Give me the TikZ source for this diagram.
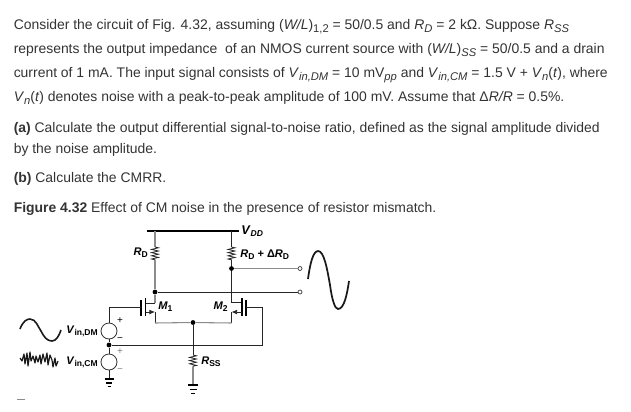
\documentclass[tikz,border=0pt]{standalone}
\usepackage{fontspec}
\setmainfont{Liberation Sans}
\usetikzlibrary{arrows.meta,decorations.pathmorphing}
\newcommand{\subtxt}[1]{\raisebox{-2.4pt}{\fontsize{8.4}{10}\selectfont #1}}
\newcommand{\labsub}[1]{\raisebox{-1.6pt}{\fontsize{6.4}{7}\selectfont #1}}
\definecolor{prose-grey}{HTML}{333333}
\tikzset{
    prose/.style = {anchor=base west, inner sep=0pt, text=prose-grey, font=\fontsize{10.45}{12}\selectfont},
    part-label/.style = {prose, font=\fontsize{10.45}{12}\selectfont\bfseries},
    comp-label/.style = {inner sep=0pt, font=\fontsize{8.3}{10}\selectfont\bfseries},
    wire/.style = {draw=black!85, line width=0.6pt},
    wire-pale/.style = {draw=black!45, line width=0.8pt},
    rail/.style = {draw=black, line width=1.4pt},
    res/.style = {wire, decorate, decoration={zigzag, amplitude=2.6pt, segment length=2.4pt}},
    plate/.style = {draw=black, line width=1.1pt},
    dot/.style = {circle, fill=black, inner sep=0pt, minimum size=3.6pt},
    open-dot/.style = {circle, draw=black!80, fill=white, line width=0.5pt, inner sep=0pt, minimum size=3pt},
    src/.style = {circle, draw=black!80, fill=white, line width=0.6pt, inner sep=0pt, minimum size=12pt},
    sign/.style = {inner sep=0pt, font=\fontsize{7.5}{8}\selectfont},
    stub-arrow/.style = {wire, -{Latex[length=4.2pt,width=3.6pt]}},
    hand-wave/.style = {draw=black!90, line width=1.2pt, line join=round},
    gnd-bar/.style = {draw=black, line width=1pt},
}
\begin{document}
\begin{tikzpicture}[x=0.75pt,y=-0.75pt]
\useasboundingbox (0,0) rectangle (631,411);
% question text
\node[prose] (line-a) at (13.5,29) {Consider the circuit of Fig. 4.32, assuming (\textit{W/L})\subtxt{1,2} = 50/0.5 and \textit{R}\subtxt{\textit{D}} = 2 kΩ. Suppose \textit{R}\subtxt{\textit{SS}}};
\node[prose] (line-b) at (13.5,53) {represents the output impedance\ \ of an NMOS current source with (\textit{W/L})\subtxt{\textit{SS}} = 50/0.5 and a drain};
\node[prose] (line-c) at (13.5,77) {current of 1 mA. The input signal consists of \textit{V}\subtxt{\textit{in,DM}} = 10 mV\subtxt{\textit{pp}} and \textit{V}\subtxt{\textit{in,CM}} = 1.5 V + \textit{V}\subtxt{\textit{n}}(\textit{t}), where};
\node[prose] (line-d) at (13.5,101) {\textit{V}\subtxt{\textit{n}}(\textit{t}) denotes noise with a peak-to-peak amplitude of 100 mV. Assume that Δ\textit{R/R} = 0.5\%.};
\node[part-label] (part-a) at (13.5,132) {(a) \mdseries Calculate the output differential signal-to-noise ratio, defined as the signal amplitude divided};
\node[prose] (part-a2) at (13.5,153) {by the noise amplitude.};
\node[part-label] (part-b) at (13.5,182) {(b) \mdseries Calculate the CMRR.};
\node[part-label] (fig-cap) at (13.5,212) {Figure 4.32 \mdseries Effect of CM noise in the presence of resistor mismatch.};
% junctions
\coordinate (rail-l) at (147,231);
\coordinate (rail-r) at (239,231);
\coordinate (rd1-top) at (155,231);
\coordinate (rd1-a) at (155,247);
\coordinate (rd1-b) at (155,260);
\node[dot] (drain-l) at (155,292) {};
\coordinate (rd2-top) at (231.5,231);
\coordinate (rd2-a) at (231.5,247);
\coordinate (rd2-b) at (231.5,260);
\node[dot] (drain-r) at (231.5,268.5) {};
\node[open-dot] (out-a) at (300,268.5) {};
\node[open-dot] (out-b) at (300,292) {};
\node[dot] (tail) at (193,322.5) {};
\node[dot] (mid) at (109,345) {};
\node[src] (src-dm) at (109,331) {};
\node[src] (src-cm) at (109,362) {};
% M1
\coordinate (m1-d) at (155,303);
\coordinate (m1-s) at (155,312);
\coordinate (m1-dc) at (145.5,303);
\coordinate (m1-sc) at (145.5,312);
\coordinate (m1-g) at (141,307.5);
\coordinate (m1-gw) at (109,307.5);
\coordinate (m1-sb) at (155,323);
% M2
\coordinate (m2-d) at (231.5,302);
\coordinate (m2-s) at (231.5,312);
\coordinate (m2-dc) at (242,302);
\coordinate (m2-sc) at (242,312);
\coordinate (m2-g) at (246,307.5);
\coordinate (m2-gw) at (262,307.5);
\coordinate (m2-gb) at (262,345);
\coordinate (m2-sb) at (231.5,323);
% tail resistor and grounds
\coordinate (rss-a) at (193,355);
\coordinate (rss-b) at (193,367);
\coordinate (gnd-t) at (193,385);
\coordinate (gnd-s) at (109,379);
% supply and loads
\draw[rail] (rail-l) -- (rail-r);
\draw[wire-pale] (rd1-top) -- (rd1-a);
\draw[res] (rd1-a) -- (rd1-b);
\draw[wire-pale] (rd1-b) -- (drain-l);
\draw[wire] (rd2-top) -- (rd2-a);
\draw[res] (rd2-a) -- (rd2-b);
\draw[wire] (rd2-b) -- (drain-r);
\draw[wire-pale] (drain-r) -- (out-a);
\draw[wire] (drain-l) -- (out-b);
% M1 wiring
\draw[wire-pale] (drain-l) -- (m1-d);
\draw[wire] (m1-d) -- (m1-dc);
\draw[plate] (145.5,298) -- (145.5,316);
\draw[plate] (m1-g) ++(0,-8) -- ++(0,16);
\draw[wire] (m1-gw) -- (m1-g);
\draw[wire] (m1-gw) -- (src-dm);
\draw[stub-arrow] (m1-sc) -- (m1-s);
\draw[wire] (m1-s) -- (m1-sb);
\draw[wire-pale] (m1-sb) -- (tail);
% M2 wiring
\draw[wire] (drain-r) -- (m2-d) -- (m2-dc);
\draw[plate] (242,298) -- (242,316);
\draw[plate] (m2-g) ++(0,-8) -- ++(0,16);
\draw[wire] (m2-g) -- (m2-gw) -- (m2-gb) -- (mid);
\draw[stub-arrow] (m2-sc) -- (m2-s);
\draw[wire] (m2-s) -- (m2-sb);
\draw[wire-pale] (m2-sb) -- (tail);
% sources
\draw[wire] (src-dm) -- (mid);
\draw[wire] (mid) -- (src-cm);
\draw[wire] (src-cm) -- (gnd-s);
\draw[gnd-bar] (gnd-s) ++(-4.5,0) -- ++(9,0);
\draw[gnd-bar] (gnd-s) ++(-3,4) -- ++(6,0);
\draw[gnd-bar] (gnd-s) ++(-1.5,7.5) -- ++(3,0);
% tail
\draw[wire] (tail) -- (rss-a);
\draw[res] (rss-a) -- (rss-b);
\draw[wire-pale] (rss-b) -- (gnd-t);
\draw[gnd-bar] (gnd-t) ++(-5,0) -- ++(10,0);
\draw[gnd-bar] (gnd-t) ++(-3.5,4.5) -- ++(7,0);
\draw[gnd-bar] (gnd-t) ++(-1.7,8.5) -- ++(3.4,0);
% labels
\node[comp-label, anchor=west] (vdd-lab) at (241,231) {\fontsize{9.5}{10}\selectfont\textit{V}\labsub{\textit{DD}}};
\node[comp-label, anchor=east] (rd1-lab) at (148,252.5) {\textit{R}\labsub{D}};
\node[comp-label, anchor=west] (rd2-lab) at (240,254.5) {\textit{R}\labsub{D} + Δ\textit{R}\labsub{D}};
\node[comp-label, anchor=west] (m1-lab) at (158,307) {\textit{M}\labsub{1}};
\node[comp-label, anchor=east] (m2-lab) at (228,307) {\textit{M}\labsub{2}};
\node[comp-label, anchor=west] (rss-lab) at (201,362) {\textit{R}\labsub{SS}};
\node[comp-label, anchor=east] (dm-lab) at (98,331) {\textit{V}\labsub{in,DM}};
\node[comp-label, anchor=east] (cm-lab) at (98,362) {\textit{V}\labsub{in,CM}};
\node[sign] (dm-p) at (120,321) {+};
\node[sign] (dm-m) at (120,340) {−};
\node[sign, text=black!50] (cm-p) at (120,352) {+};
\node[sign, text=black!50] (cm-m) at (120,371) {−};
% waves
\draw[hand-wave] (20,329) .. controls (23,321) and (27,319) .. (30,319) .. controls (36,319) and (38,327) .. (41,331) .. controls (44,337) and (47,341) .. (52,341) .. controls (56,341) and (59,336) .. (61,330);
\draw[hand-wave, line width=0.9pt] (20,358) -- (22,361) -- (24,354) -- (25,364) -- (27,353) -- (28,366) -- (30,352) -- (31,361) -- (33,356) -- (35,363) -- (36,356) -- (38,362) -- (40,355) -- (41,364) -- (43,354) -- (45,362) -- (47,353) -- (48,365) -- (50,355) -- (52,360) -- (53,367) -- (55,358) -- (56,366) -- (58,361);
\draw[hand-wave, line width=1.3pt] (308,279) .. controls (310,264) and (313,251) .. (318,251) .. controls (324,251) and (327,268) .. (330,285) .. controls (332,300) and (335,309) .. (338,309) .. controls (344,309) and (347,295) .. (349,281);
% cut-off mark
\draw[draw=black!45, line width=0.7pt] (17,399.5) -- (25,399.5);
\end{tikzpicture}
\end{document}
